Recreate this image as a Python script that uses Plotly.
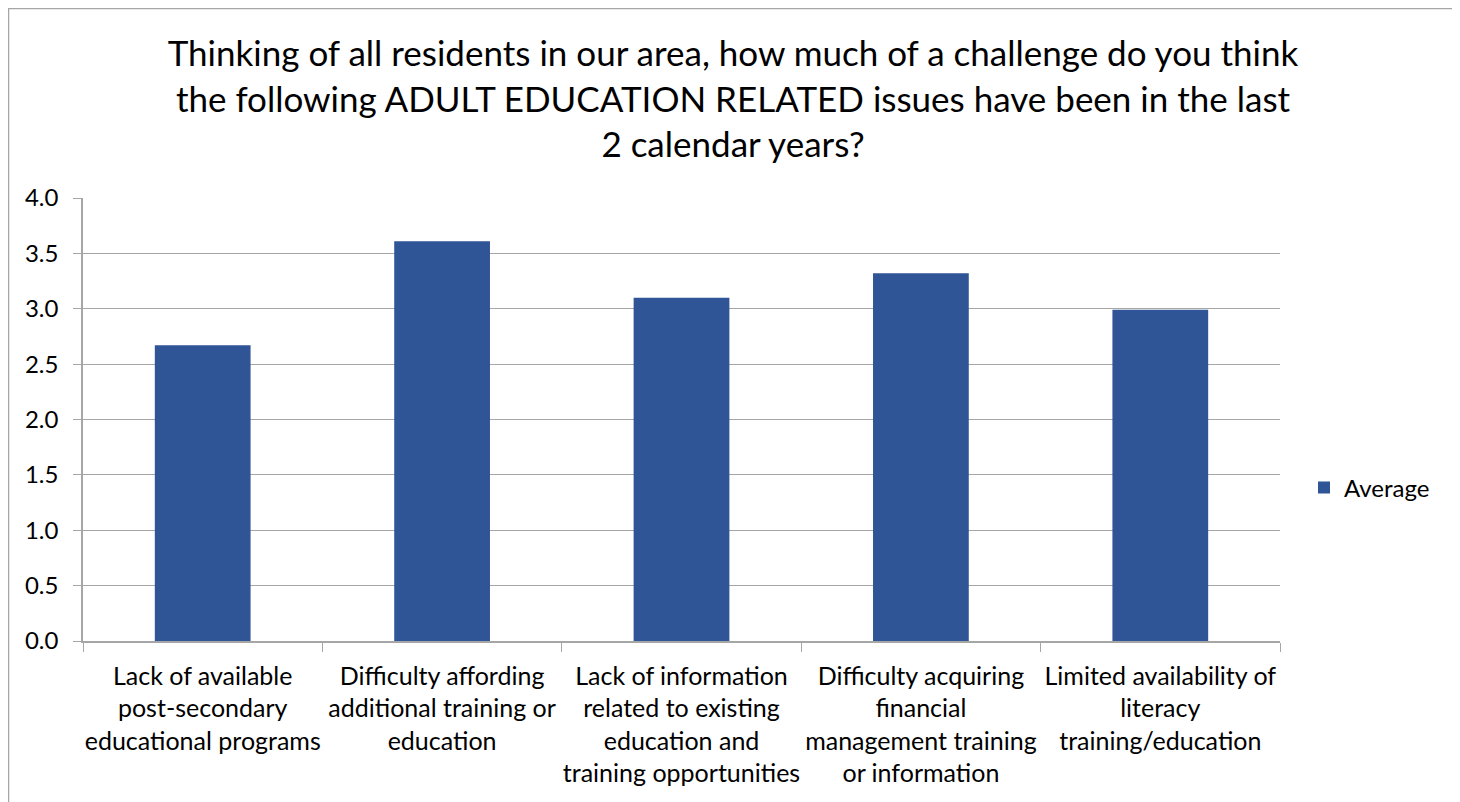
import plotly.graph_objects as go

categories = [
    "Lack of available<br>post-secondary<br>educational programs",
    "Difficulty affording<br>additional training or<br>education",
    "Lack of information<br>related to existing<br>education and<br>training opportunities",
    "Difficulty acquiring<br>financial<br>management training<br>or information",
    "Limited availability of<br>literacy<br>training/education",
]
average = [2.67, 3.61, 3.10, 3.32, 2.99]
y_ticks = [0, 0.5, 1.0, 1.5, 2.0, 2.5, 3.0, 3.5, 4.0]
y_ticklabels = ["0.0", "0.5", "1.0", "1.5", "2.0", "2.5", "3.0", "3.5", "4.0"]

title_text = ("Thinking of all residents in our area, how much of a challenge do you think<br>"
              "the following ADULT EDUCATION RELATED issues have been in the last<br>"
              "2 calendar years?")

FONT = "Lato"
W, H = 1460, 802
L, R, T, B = 75, 188, 190, 169
pw = W - L - R
ph = H - T - B

fig = go.Figure()
fig.add_trace(go.Bar(
    x=categories, y=average, name="Average",
    marker=dict(color="#2F5597", line=dict(color="#2F5597", width=0)),
))

fig.update_layout(
    width=W, height=H,
    margin=dict(l=L, r=R, t=T, b=B),
    paper_bgcolor="white", plot_bgcolor="white",
    font=dict(family=FONT, size=24, color="black"),
    bargap=0.6,
    showlegend=True,
    title=dict(text=title_text, x=725 / W, xanchor="center", xref="container",
               y=1 - 58 / H, yanchor="top", font=dict(size=35, family=FONT, color="black")),
    legend=dict(x=(1296 - L) / pw, y=(H - B - 480) / ph, xanchor="left", yanchor="middle",
                font=dict(size=24), bgcolor="rgba(0,0,0,0)"),
    xaxis=dict(showline=True, linecolor="#A6A6A6", linewidth=1.5, ticks="outside",
               tickson="boundaries", ticklen=9, tickcolor="#A6A6A6", showgrid=False,
               tickfont=dict(size=25), tickangle=0, ticklabelstandoff=12),
    yaxis=dict(range=[0, 4], tickvals=y_ticks, ticktext=y_ticklabels, showline=True,
               linecolor="#A6A6A6", linewidth=1.5, ticks="outside", ticklen=8,
               tickcolor="#A6A6A6", showgrid=True, gridcolor="#A6A6A6", gridwidth=1.2,
               zeroline=False, tickfont=dict(size=24), ticklabelstandoff=10),
)

# outer chart border
fig.add_shape(type="rect", xref="paper", yref="paper",
              x0=(0.5 - L) / pw, x1=(1450 - L) / pw,
              y0=(H - B - 830) / ph, y1=(H - B - 0.5) / ph,
              line=dict(color="#A6A6A6", width=1.5), fillcolor="rgba(0,0,0,0)", layer="below")

fig.write_html("out.html")
